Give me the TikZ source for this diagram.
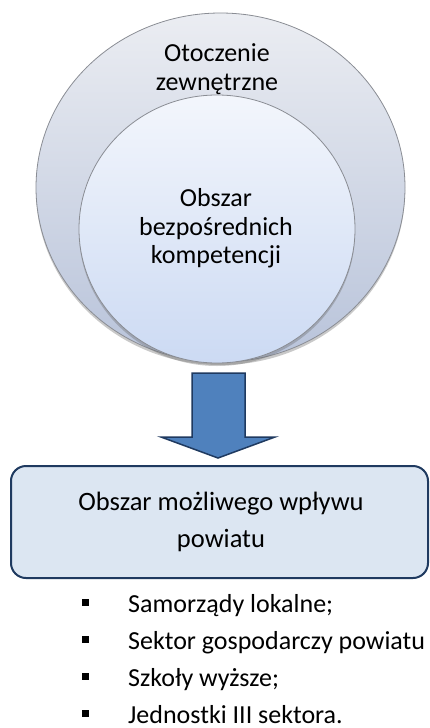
\documentclass[tikz,border=0pt]{standalone}
\usepackage{fontspec}
\setmainfont{Carlito}
\usetikzlibrary{shapes.geometric,shadows}
\definecolor{outerTop}{HTML}{EBEDF2}
\definecolor{outerBot}{HTML}{B8C3DA}
\definecolor{innerTop}{HTML}{F3F6FC}
\definecolor{innerBot}{HTML}{CCDAF3}
\definecolor{rimGray}{HTML}{8A8D94}
\definecolor{arrowFill}{HTML}{4F81BD}
\definecolor{navyEdge}{HTML}{1F3A60}
\definecolor{boxFill}{HTML}{DCE6F2}
\tikzset{
  circ/.style={ellipse, draw=rimGray, line width=0.8pt, inner sep=0pt,
    drop shadow={shadow xshift=0pt, shadow yshift=-3pt, opacity=0.35, fill=black!60}},
  txt/.style={font=\fontsize{26}{28.5}\selectfont, align=center, text=black},
  blockarrow/.style={fill=arrowFill, draw=navyEdge, line width=1.5pt, line join=miter},
  resultbox/.style={draw=navyEdge, fill=boxFill, line width=2pt, rounded corners=15pt,
    minimum width=417pt, minimum height=112pt, inner sep=0pt},
  bulletsq/.style={fill=black, minimum size=7pt, inner sep=0pt},
  item/.style={font=\fontsize{26}{30}\selectfont, anchor=base west, inner sep=0pt}
}
\begin{document}
\begin{tikzpicture}[x=1pt,y=-1pt]
\useasboundingbox (0,0) rectangle (430,728);
\clip (0,0) rectangle (430,728);
\fill[white] (0,0) rectangle (430,728);
% circles
\node[circ, top color=outerTop, bottom color=outerBot, minimum width=369pt, minimum height=349pt] (outer) at (220.5,187.5) {};
\node[txt] (outerlabel) at (217,69) {Otoczenie\\zewnętrzne};
\node[circ, top color=innerTop, bottom color=innerBot, minimum width=276pt, minimum height=268pt] (inner) at (217,229) {};
\node[txt] (innerlabel) at (216,228.5) {Obszar\\bezpośrednich\\kompetencji};
% block arrow
\coordinate (atip) at (218,458);
\draw[blockarrow] (192,373) -- (245,373) -- (245,437) -- (275,437) -- (atip) -- (161,437) -- (192,437) -- cycle;
% result box
\node[resultbox] (box) at (219.5,522) {};
\node[font=\fontsize{26.5}{37}\selectfont, align=center] (boxlabel) at (221,521.5) {Obszar możliwego wpływu\\powiatu};
% bullet list
\foreach \t [count=\i from 0] in {Samorządy lokalne;, Sektor gospodarczy powiatu, Szkoły wyższe;, Jednostki III sektora.} {
  \node[bulletsq] (b\i) at (85,{602+37*\i}) {};
  \node[item] (t\i) at (128,{612+37*\i}) {\t};
}
\end{tikzpicture}
\end{document}
